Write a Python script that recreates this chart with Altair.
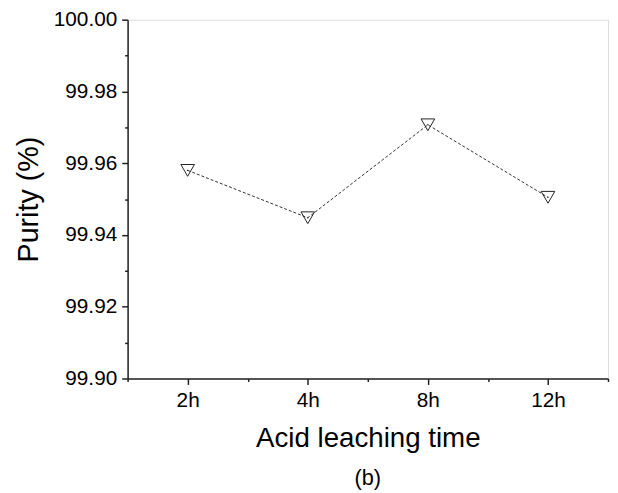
import altair as alt
import pandas as pd

times = ["2h", "4h", "8h", "12h"]
purity = [99.958, 99.9448, 99.9707, 99.9505]
y_major = [99.90, 99.92, 99.94, 99.96, 99.98, 100.00]
y_minor = [99.91, 99.93, 99.95, 99.97, 99.99]

df = pd.DataFrame({"time": times, "purity": purity})
df["idx"] = list(range(1, len(times) + 1))
n = len(times)
x_major = list(range(1, n + 1))
x_minor = [i + 0.5 for i in range(0, n + 1)]
label_expr = "[" + ",".join("'%s'" % t for t in times) + "][datum.value-1]"

FONT = "Liberation Sans"
DARK = "#222222"

xs = alt.Scale(domain=[0.5, n + 0.5], nice=False, zero=False)
ys = alt.Scale(domain=[99.90, 100.00], nice=False, zero=False)

x_axis = alt.Axis(orient="bottom", values=x_major, labelExpr=label_expr, tickSize=6,
                  tickWidth=1.5, domainWidth=1.5, domainColor=DARK, tickColor=DARK,
                  labelFontSize=21, labelFont=FONT, labelColor="black", labelPadding=5,
                  title="Acid leaching time", titleFontSize=28, titleFont=FONT,
                  titleFontWeight="normal", titleColor="black", titlePadding=15, grid=False)
y_axis = alt.Axis(orient="left", values=y_major, format=".2f", tickSize=6,
                  tickWidth=1.5, domainWidth=1.5, domainColor=DARK, tickColor=DARK,
                  labelFontSize=21, labelFont=FONT, labelColor="black", labelPadding=5,
                  title="Purity (%)", titleFontSize=29, titleFont=FONT,
                  titleFontWeight="normal", titleColor="black", titlePadding=10, grid=False)
x_minor_axis = alt.Axis(orient="bottom", values=x_minor, labels=False, tickSize=3,
                        tickWidth=1.5, tickColor=DARK, domain=False, title=None, grid=False)
y_minor_axis = alt.Axis(orient="left", values=y_minor, labels=False, tickSize=3,
                        tickWidth=1.5, tickColor=DARK, domain=False, title=None, grid=False)

base = alt.Chart(df)
line = base.mark_line(color="#333333", strokeWidth=1, strokeDash=[3, 2]).encode(
    x=alt.X("idx:Q", scale=xs, axis=x_axis),
    y=alt.Y("purity:Q", scale=ys, axis=y_axis),
)
pts = base.mark_point(shape="triangle-down", filled=False, color="#222222", size=190,
                      strokeWidth=1, opacity=1).encode(
    x=alt.X("idx:Q", scale=xs, axis=x_minor_axis),
    y=alt.Y("purity:Q", scale=ys, axis=y_minor_axis),
)
dots = base.mark_point(shape="circle", filled=True, color="#222222", size=2, opacity=1).encode(
    x=alt.X("idx:Q", scale=xs, axis=None),
    y=alt.Y("purity:Q", scale=ys, axis=None),
)

chart = alt.layer(line, pts, dots).resolve_axis(x="independent", y="independent").properties(
    width=486, height=363,
    autosize=alt.AutoSizeParams(type="none"),
    padding={"left": 121, "top": 9, "right": 2, "bottom": 112},
    title=alt.TitleParams("(b)", orient="bottom", fontSize=22, fontWeight="normal",
                          font=FONT, color="black", offset=16),
).configure_view(stroke=DARK, strokeWidth=1.5).configure(background="white")

chart.save("out.html", embed_options={"renderer": "svg", "actions": False})
